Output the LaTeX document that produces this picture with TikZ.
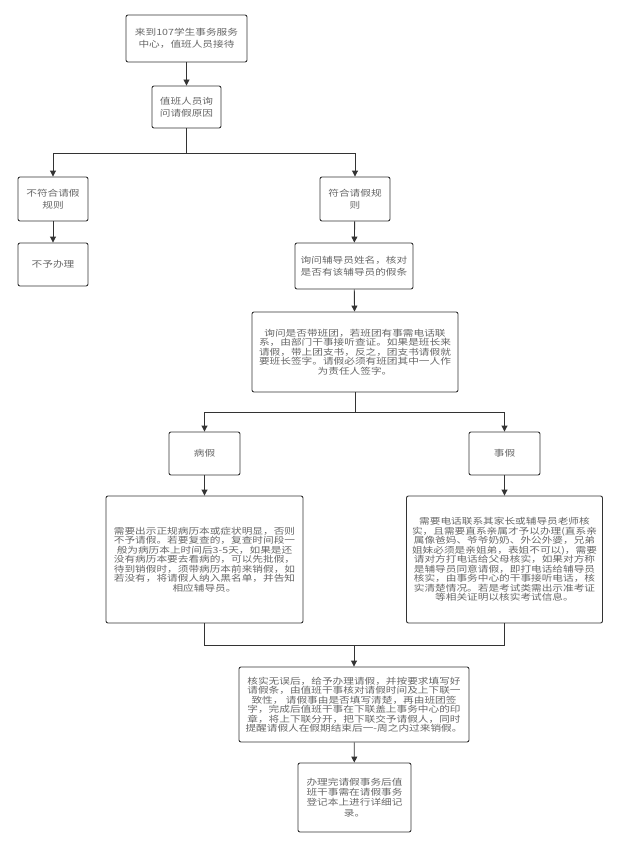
\documentclass[tikz,border=0pt]{standalone}
\usepackage{fontspec}
\newfontfamily\cjk[FakeStretch=1.24]{Noto Sans CJK SC}
\usepackage{xcolor}
\usetikzlibrary{arrows.meta,positioning,calc}
\definecolor{linegray}{HTML}{333333}
\definecolor{textgray}{HTML}{666666}
\tikzset{
  stepbox/.style={shape=rectangle,draw=linegray,line width=0.9pt,rounded corners=2pt,
    align=center,text=textgray,inner sep=1pt,font=\cjk\fontsize{8.6}{12.5}\selectfont},
  longbox/.style={stepbox,font=\cjk\fontsize{8.6}{9.5}\selectfont},
  flow/.style={draw=linegray,line width=0.9pt,-{Triangle[length=6pt,width=6pt]}},
  plainline/.style={draw=linegray,line width=0.9pt}
}

\begin{document}
\begin{tikzpicture}[x=1pt,y=-1pt]
    \useasboundingbox (0,0) rectangle (620,848);
    \node[stepbox,minimum width=121pt,minimum height=47pt] (start) at (186.5,38.5) {来到107学生事务服务\\中心，值班人员接待};
    \node[stepbox,minimum width=69pt,minimum height=42pt] (ask) at (186.5,107) {值班人员询\\问请假原因};
    \node[stepbox,minimum width=70pt,minimum height=44pt] (no) at (53,199) {不符合请假\\规则};
    \node[stepbox,minimum width=70pt,minimum height=43pt] (refuse) at (53,264.5) {不予办理};
    \node[stepbox,minimum width=70pt,minimum height=44pt] (yes) at (355,199) {符合请假规\\则};
    \node[stepbox,minimum width=118pt,minimum height=46pt] (tutor) at (354,266) {询问辅导员姓名，核对\\是否有该辅导员的假条};
    \node[longbox,minimum width=206pt,minimum height=80pt] (group) at (355,352) {询问是否带班团，若班团有事需电话联\\系，由部门干事接听查证。如果是班长来\\请假，带上团支书，反之，团支书请假就\\要班长签字。请假必须有班团其中一人作\\为责任人签字。};
    \node[stepbox,minimum width=71pt,minimum height=43pt] (sick) at (204.5,453.5) {病假};
    \node[stepbox,minimum width=71pt,minimum height=43pt] (pers) at (504.5,453.5) {事假};
    \node[longbox,minimum width=197pt,minimum height=127pt] (sickd) at (204.5,559.5) {需要出示正规病历本或症状明显，否则\\不予请假。若要复查的，复查时间段一\\般为病历本上时间后3-5天，如果是还\\没有病历本要去看病的，可以先批假，\\待到销假时，须带病历本前来销假，如\\若没有，将请假人纳入黑名单，并告知\\相应辅导员。};
    \node[longbox,minimum width=196pt,minimum height=127pt] (persd) at (504.5,559.5) {需要电话联系其家长或辅导员老师核\\实，且需要直系亲属才予以办理(直系亲\\属像爸妈、爷爷奶奶、外公外婆，兄弟\\姐妹必须是亲姐弟，表姐不可以)，需要\\请对方打电话给父母核实，如果对方称\\是辅导员同意请假，即打电话给辅导员\\核实，由事务中心的干事接听电话，核\\实清楚情况。若是考试类需出示准考证\\等相关证明以核实考试信息。};
    \node[longbox,minimum width=230pt,minimum height=75pt] (approve) at (354,704.5) {核实无误后，给予办理请假，并按要求填写好\\请假条，由值班干事核对请假时间及上下联一\\致性， 请假事由是否填写清楚，再由班团签\\字，完成后值班干事在下联盖上事务中心的印\\章，将上下联分开，把下联交予请假人，同时\\提醒请假人在假期结束后一-周之内过来销假。};
    \node[longbox,minimum width=113pt,minimum height=69pt,font=\cjk\fontsize{8.6}{10.2}\selectfont] (record) at (354.5,797.5) {办理完请假事务后值\\班干事需在请假事务\\登记本上进行详细记\\录。};
    % junctions
    \coordinate (split1) at (186.5,153);
    \coordinate (split2) at (355,412);
    \coordinate (merge) at (354,645);
    \path[flow] (start) -- (ask);
    \path[plainline] (ask) -- (split1);
    \path[flow] (split1) -| (no);
    \path[flow] (split1) -| (yes);
    \path[flow] (no) -- (refuse);
    \path[flow] (yes) -- (tutor);
    \path[flow] (tutor) -- (group);
    \path[plainline] (group) -- (split2);
    \path[flow] (split2) -| (sick);
    \path[flow] (split2) -| (pers);
    \path[flow] (sick) -- (sickd);
    \path[flow] (pers) -- (persd);
    \path[plainline] (sickd) |- (merge);
    \path[plainline] (persd) |- (merge);
    \path[flow] (merge) -- (approve);
    \path[flow] (approve) -- (record);
\end{tikzpicture}
\end{document}
